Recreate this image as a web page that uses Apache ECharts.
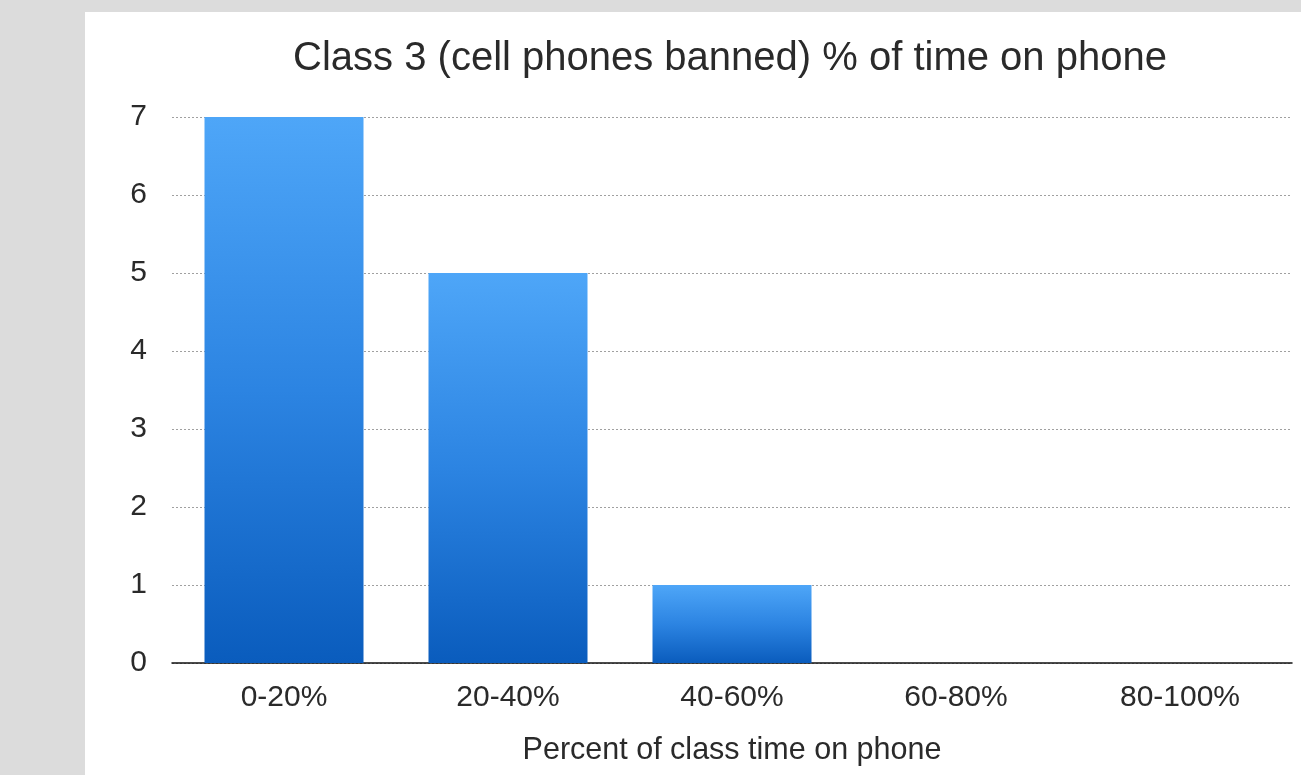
<!DOCTYPE html>
<html>
<head>
<meta charset="utf-8">
<script src="https://cdn.jsdelivr.net/npm/echarts@6/dist/echarts.min.js"></script>
<style>
  html, body { margin: 0; padding: 0; background: #dcdcdc; }
  #chart { width: 1301px; height: 775px; }
</style>
</head>
<body>
<div id="chart"></div>
<script>
// Histogram of how much class time students spent on their phones
const chartTitle = 'Class 3 (cell phones banned) % of time on phone';
const axisTitle = 'Percent of class time on phone';
const categories = ['0-20%', '20-40%', '40-60%', '60-80%', '80-100%'];
const studentCounts = [7, 5, 1, 0, 0];
const yTicks = [0, 1, 2, 3, 4, 5, 6, 7];

const font = '"Liberation Sans", Arial, Helvetica, sans-serif';
const textColor = '#2a2a2a';
const chart = echarts.init(document.getElementById('chart'), null, { renderer: 'canvas' });

chart.setOption({
  animation: false,
  backgroundColor: '#dcdcdc',
  graphic: [{
    type: 'rect',
    z: -10,
    silent: true,
    shape: { x: 85, y: 12, width: 1216, height: 763 },
    style: { fill: '#ffffff' }
  }],
  title: {
    text: chartTitle,
    left: 730,
    top: 39,
    textAlign: 'center',
    padding: 0,
    textStyle: { fontFamily: font, fontSize: 40, fontWeight: 'normal', color: textColor }
  },
  grid: { left: 172, right: 9, top: 117, bottom: 112, containLabel: false },
  xAxis: {
    type: 'category',
    data: categories,
    name: axisTitle,
    nameLocation: 'middle',
    nameGap: 72,
    nameTextStyle: { fontFamily: font, fontSize: 30.5, color: textColor },
    axisLine: { lineStyle: { color: '#111111', width: 1.5 } },
    axisTick: { show: false },
    axisLabel: { margin: 20, fontFamily: font, fontSize: 30, color: textColor }
  },
  yAxis: {
    type: 'value',
    min: yTicks[0],
    max: yTicks[yTicks.length - 1],
    interval: 1,
    axisLine: { show: false },
    axisTick: { show: false },
    axisLabel: { margin: 25, fontFamily: font, fontSize: 30, color: textColor },
    splitLine: { lineStyle: { color: '#a0a0a0', width: 1, type: [2, 2] } }
  },
  series: [{
    type: 'bar',
    data: studentCounts,
    barWidth: 159,
    itemStyle: {
      color: new echarts.graphic.LinearGradient(0, 0, 0, 1, [
        { offset: 0, color: '#4ea6f8' },
        { offset: 0.5, color: '#2c84e2' },
        { offset: 1, color: '#0a5cbd' }
      ])
    }
  }]
});
</script>
</body>
</html>
